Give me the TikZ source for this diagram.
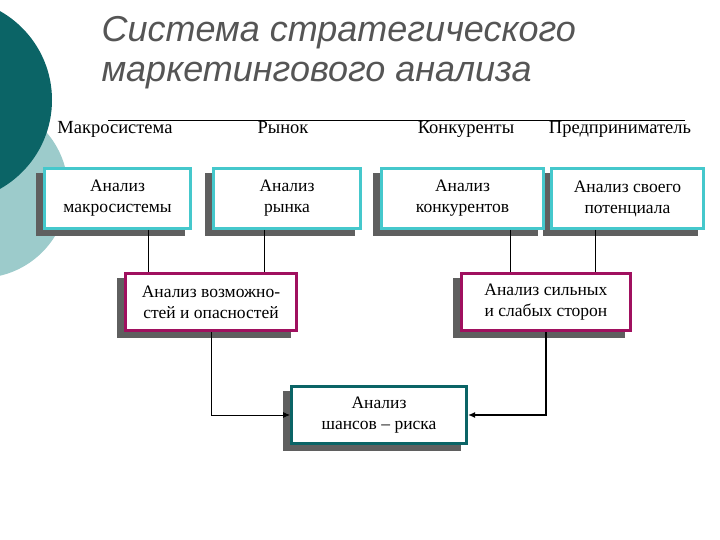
\documentclass[tikz,border=0pt]{standalone}
\usepackage{fontspec}
\setmainfont{Liberation Serif}
\newfontfamily\titlefont{Liberation Sans}
\usetikzlibrary{arrows.meta}
\definecolor{dteal}{HTML}{0B6466}
\definecolor{lteal}{HTML}{9CCBCB}
\definecolor{cyanb}{HTML}{45C8CC}
\definecolor{magb}{HTML}{A0105F}
\definecolor{shad}{HTML}{5F5F5F}
\definecolor{titleg}{HTML}{555555}
\tikzset{
  bx/.style={draw=#1, line width=3pt, fill=white, align=center, font=\fontsize{17.5}{21}\selectfont, inner sep=0pt},
  lbl/.style={font=\fontsize{18.5}{20}\selectfont, anchor=base},
  ttl/.style={anchor=west, text=titleg, font=\titlefont\itshape\fontsize{36}{40}\selectfont},
  ln/.style={line width=0.8pt},
  arr/.style={-{Latex[length=7pt,width=6pt]}}
}
\begin{document}
\begin{tikzpicture}[x=1pt,y=-1pt]
\useasboundingbox (0,0) rectangle (720,540);
\begin{scope}
\clip (0,0) rectangle (720,540);
\fill[lteal] (-20,190) circle (88);
\fill[dteal] (-50,100) circle (102);
\end{scope}
\node[ttl] (t1) at (98,33) {Система стратегического};
\node[ttl] (t2) at (98,76) {маркетингового анализа};
\draw[line width=0.8pt] (108,120) -- (685,120);
\node[lbl] (c1) at (115,134) {Макросистема};
\node[lbl] (c2) at (283,134) {Рынок};
\node[lbl] (c3) at (466,134) {Конкуренты};
\node[lbl] (c4) at (620,134) {Предприниматель};
% shadows
\foreach \a/\b/\c/\d in {43/167/192/230, 212/167/362/230, 380/167/545/230, 550/167/705/230, 124/272/298/332, 460/272/632/332, 290/385/468/445}
  \fill[shad] (\a-7,\b+6) rectangle (\c-7,\d+6);
\node[bx=cyanb, minimum width=146pt, minimum height=60pt] (a1) at (117.5,198.5) {Анализ\\макросистемы};
\node[bx=cyanb, minimum width=147pt, minimum height=60pt] (a2) at (287,198.5) {Анализ\\рынка};
\node[bx=cyanb, minimum width=162pt, minimum height=60pt] (a3) at (462.5,198.5) {Анализ\\конкурентов};
\node[bx=cyanb, minimum width=152pt, minimum height=60pt] (a4) at (627.5,198.5) {Анализ своего\\потенциала};
\node[bx=magb, minimum width=171pt, minimum height=57pt] (m1) at (211,302) {Анализ возможно-\\стей и опасностей};
\node[bx=magb, minimum width=169pt, minimum height=57pt] (m2) at (546,302) {Анализ сильных\\и слабых сторон};
\node[bx=dteal, minimum width=175pt, minimum height=57pt] (r) at (379,415) {Анализ\\шансов – риска};
\draw[ln] (a1.south -| 148,0) -- (m1.north -| 148,0);
\draw[ln] (a2.south -| 264,0) -- (m1.north -| 264,0);
\draw[ln] (a3.south -| 510,0) -- (m2.north -| 510,0);
\draw[ln] (a4.south -| 595,0) -- (m2.north -| 595,0);
\draw[arr, line width=0.8pt] (m1.south) |- (r.west);
\draw[arr, line width=1.6pt] (m2.south) |- (r.east);
\end{tikzpicture}
\end{document}
